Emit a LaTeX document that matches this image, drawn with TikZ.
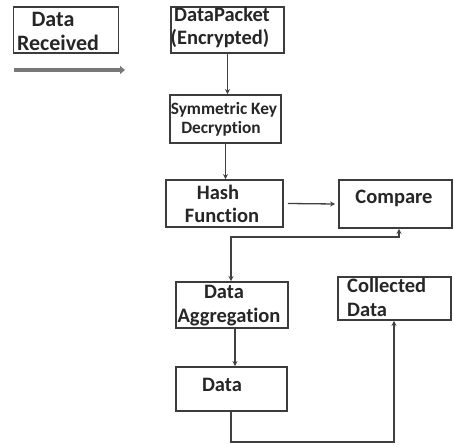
\documentclass[tikz,border=0pt]{standalone}
\usepackage{fontspec}
\setmainfont{Carlito}[Ligatures=NoCommon]
\usetikzlibrary{arrows.meta}
\definecolor{boxgray}{RGB}{60,60,60}
\definecolor{flowgray}{RGB}{120,120,120}
\begin{document}
\begin{tikzpicture}[x=1pt,y=-1pt,
  box/.style={draw=boxgray,line width=1.8pt,inner sep=0pt,rectangle},
  lbl/.style={font=\bfseries\fontsize{20.5}{24}\selectfont,anchor=base,inner sep=0pt,text=black!85},
  blbl/.style={lbl,font=\bfseries\fontsize{22}{26}\selectfont},
  slbl/.style={lbl,font=\bfseries\fontsize{17.3}{21}\selectfont},
  conn/.style={draw=black!75,line width=1.3pt,-{Stealth[length=5pt,width=5pt]}},
  bconn/.style={draw=black!75,line width=1.3pt,{Stealth[length=5pt,width=5pt]}-{Stealth[length=5pt,width=5pt]}}]
\useasboundingbox[fill=white] (0,0) rectangle (454,446);

% boxes
\node[box,minimum width=105pt,minimum height=46pt] (recv) at (66,30) {};
\node[box,minimum width=113pt,minimum height=46pt] (pkt) at (227.5,30) {};
\node[box,minimum width=111pt,minimum height=48pt] (sym) at (225.5,119) {};
\node[box,minimum width=117pt,minimum height=47pt] (hash) at (224.5,203.5) {};
\node[box,minimum width=113pt,minimum height=48pt] (cmp) at (395.5,204) {};
\node[box,minimum width=112pt,minimum height=46pt] (agg) at (232,305) {};
\node[box,minimum width=113pt,minimum height=43pt] (coll) at (394.5,298.5) {};
\node[box,minimum width=111pt,minimum height=44pt] (data) at (231.5,389) {};

% labels
\node[blbl] (recvA) at (53,27) {Data};
\node[blbl] (recvB) at (58,51) {Received};
\node[lbl] (pktA) at (222,22) {DataPacket};
\node[lbl] (pktB) at (220,45) {(Encrypted)};
\node[slbl] (symA) at (224,115) {Symmetric Key};
\node[slbl] (symB) at (221,134) {Decryption};
\node[lbl] (hashA) at (218,199) {Hash};
\node[lbl] (hashB) at (222,222) {Function};
\node[lbl] (cmpA) at (394,204) {Compare};
\node[lbl] (aggA) at (224,298) {Data};
\node[lbl] (aggB) at (229,322) {Aggregation};
\node[lbl,anchor=base west] (collA) at (347,292) {Collected};
\node[lbl,anchor=base west] (collB) at (347,316) {Data};
\node[lbl] (dataA) at (222,391) {Data};

% incoming data arrow
\coordinate (ga) at (14,70);
\coordinate (gb) at (125,70);
\draw[draw=flowgray,line width=3.5pt,-{Triangle[length=5pt,width=8pt]}] (ga) -- (gb);

% connectors
\draw[conn] (pkt.south) -- (pkt.south |- sym.north);
\draw[conn] (sym.south) -- (sym.south |- hash.north);
\draw[conn] ([xshift=4pt]hash.east) -- ([xshift=-3pt]cmp.west);
\coordinate (k) at (231,237);
\draw[bconn] ([xshift=3.5pt]cmp.south) |- (k) -- (k |- agg.north);
\draw[conn] ([xshift=3pt]agg.south) -- ([xshift=3pt]agg.south |- data.north);
\coordinate (m) at (231,442);
\coordinate (n) at (394,442);
\draw[conn] (m |- data.south) -- (m) -- (n) -- (n |- coll.south);
\end{tikzpicture}
\end{document}
